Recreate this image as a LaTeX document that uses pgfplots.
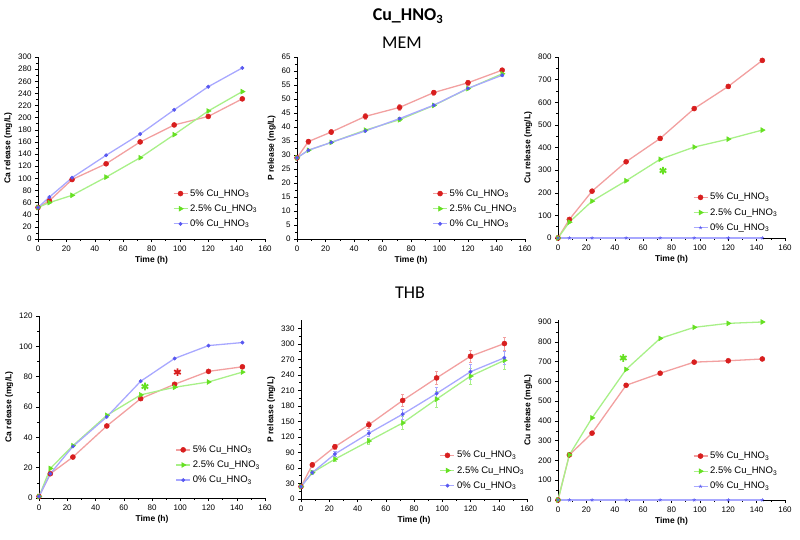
\documentclass[border=0pt]{standalone}
\usepackage{fontspec}
\setmainfont{Liberation Sans}
\newfontfamily\titlefont{Carlito}
\usepackage{pgfplots}
\pgfplotsset{compat=1.18}
\definecolor{lred}{HTML}{F2A0A0}
\definecolor{dred}{HTML}{D81E1E}
\definecolor{lgreen}{HTML}{A8F088}
\definecolor{dgreen}{HTML}{66E022}
\definecolor{lblue}{HTML}{A8A8FF}
\definecolor{dblue}{HTML}{5858F0}
\pgfplotsset{
  panel/.style={scale only axis, xmin=0, xmax=160, xtick={0,20,...,160},
    axis x line*=bottom, axis y line*=left, tick align=outside,
    minor tick num=1, major tick length=3pt, minor tick length=1.6pt,
    axis line style={line width=0.6pt}, every tick/.style={line width=0.5pt, black},
    tick label style={font=\fontsize{8}{9}\selectfont},
    label style={font=\bfseries\fontsize{8.5}{9}\selectfont},
    xlabel={Time (h)},
    xlabel style={yshift=2pt}, ylabel style={yshift=-1pt},
    /pgf/number format/assume math mode=true, /pgf/number format/1000 sep={},
    legend cell align=left,
    legend style={draw=none, fill=none, font=\fontsize{9.5}{10}\selectfont, anchor=north west, row sep=3pt},
    legend image code/.code={\draw[mark repeat=2,mark phase=2,##1] plot coordinates {(0pt,0pt) (7pt,0pt) (14pt,0pt)};},
    every axis plot/.append style={line width=1.3pt},
  },
  s5/.style={color=lred, mark=*, mark size=2.5pt, mark options={fill=dred, draw=dred, solid, line width=0.5pt}},
  s25/.style={color=lgreen, mark=triangle*, mark size=2.8pt, mark options={fill=dgreen, draw=dgreen, rotate=-90, solid, line width=0.5pt}},
  s0/.style={color=lblue, mark=*, mark size=1.7pt, mark options={fill=dblue, draw=dblue, solid, line width=0.5pt}},
  star/.style={only marks, mark=asterisk, mark size=3.8pt, mark options={line width=1.8pt}},
  ebar/.style={error bars/.cd, y dir=both, y explicit, error bar style={line width=0.6pt}, error mark options={rotate=90, mark size=1.6pt, line width=0.6pt}},
}
\begin{document}
\begin{tikzpicture}[x=1pt,y=1pt]
\useasboundingbox (0,0) rectangle (800,539);
\node[font=\titlefont\bfseries\fontsize{18}{20}\selectfont] at (408,523) {Cu\_HNO\textsubscript{3}};
\node[font=\titlefont\fontsize{18}{20}\selectfont] at (402,496) {MEM};
\node[font=\titlefont\fontsize{18}{20}\selectfont] at (410,246) {THB};

% Panel 1: Ca MEM
\begin{axis}[panel, at={(38pt,300pt)}, anchor=south west, width=227pt, height=182pt,
  ymin=0, ymax=300, ytick={0,20,...,300}, ylabel={Ca release (mg/L)},
  legend style={at={(axis description cs:0.58,0.295)}}]
\addplot[s5] coordinates {(0,52)(8,63)(24,98)(48,124)(72,160)(96,188)(120,202)(144,231)};
\addlegendentry{5\% Cu\_HNO\textsubscript{3}}
\addplot[s25] coordinates {(0,52)(8,60)(24,72)(48,102)(72,134)(96,172)(120,211)(144,243)};
\addlegendentry{2.5\% Cu\_HNO\textsubscript{3}}
\addplot[s0] coordinates {(0,52)(8,69)(24,101)(48,138)(72,173)(96,213)(120,251)(144,282)};
\addlegendentry{0\% Cu\_HNO\textsubscript{3}}
\end{axis}

% Panel 2: P MEM
\begin{axis}[panel, at={(297pt,300pt)}, anchor=south west, width=228pt, height=182pt,
  ymin=0, ymax=65, ytick={0,5,...,65}, ylabel={P release (mg/L)},
  legend style={at={(axis description cs:0.58,0.295)}}]
\addplot[s5, ebar] coordinates {(0,29)+-(0,0.6)(8,34.8)+-(0,0.9)(24,38.2)+-(0,0.9)(48,43.8)+-(0,1)(72,47)+-(0,1)(96,52.3)+-(0,0.9)(120,55.8)+-(0,0.8)(144,60.3)+-(0,0.8)};
\addlegendentry{5\% Cu\_HNO\textsubscript{3}}
\addplot[s25, ebar] coordinates {(0,29)+-(0,0.3)(8,31.7)+-(0,0.3)(24,34.5)+-(0,0.4)(48,38.9)+-(0,0.4)(72,42.6)+-(0,0.4)(96,47.7)+-(0,0.4)(120,53.7)+-(0,0.4)(144,59)+-(0,0.5)};
\addlegendentry{2.5\% Cu\_HNO\textsubscript{3}}
\addplot[s0, ebar] coordinates {(0,29)+-(0,0.3)(8,31.7)+-(0,0.3)(24,34.5)+-(0,0.3)(48,38.6)+-(0,0.3)(72,43)+-(0,0.3)(96,47.8)+-(0,0.3)(120,53.8)+-(0,0.3)(144,58.5)+-(0,0.3)};
\addlegendentry{0\% Cu\_HNO\textsubscript{3}}
\end{axis}

% Panel 3: Cu MEM
\begin{axis}[panel, at={(558pt,301pt)}, anchor=south west, width=227pt, height=181pt,
  ymin=0, ymax=800, ytick={0,100,...,800}, ylabel={Cu release (mg/L)},
  legend style={at={(axis description cs:0.58,0.27)}}]
\addplot[s5] coordinates {(0,0)(8,82)(24,207)(48,337)(72,440)(96,572)(120,670)(144,785)};
\addlegendentry{5\% Cu\_HNO\textsubscript{3}}
\addplot[s25] coordinates {(0,0)(8,70)(24,163)(48,253)(72,348)(96,402)(120,437)(144,477)};
\addlegendentry{2.5\% Cu\_HNO\textsubscript{3}}
\addplot[s0, mark=star, mark size=1.8pt] coordinates {(0,0)(8,0)(24,0)(48,0)(72,0)(96,0)(120,0)(144,0)};
\addlegendentry{0\% Cu\_HNO\textsubscript{3}}
\addplot[star, dgreen, forget plot] coordinates {(74,298)};
\end{axis}

% Panel 4: Ca THB
\begin{axis}[panel, at={(39pt,41pt)}, anchor=south west, width=226pt, height=182pt,
  ymin=0, ymax=120, ytick={0,20,...,120}, ylabel={Ca release (mg/L)},
  legend style={at={(axis description cs:0.59,0.31)}}]
\addplot[s5] coordinates {(0,1)(8,16)(24,27)(48,47.5)(72,65.5)(96,75)(120,83.5)(144,86.5)};
\addlegendentry{5\% Cu\_HNO\textsubscript{3}}
\addplot[s25] coordinates {(0,1)(8,19.5)(24,34.5)(48,54.5)(72,68)(96,73)(120,76.5)(144,83)};
\addlegendentry{2.5\% Cu\_HNO\textsubscript{3}}
\addplot[s0] coordinates {(0,1)(8,16)(24,34)(48,53.5)(72,77)(96,92)(120,100.5)(144,102.5)};
\addlegendentry{0\% Cu\_HNO\textsubscript{3}}
\addplot[star, dred, forget plot] coordinates {(98,83)};
\addplot[star, dgreen, forget plot] coordinates {(75,73.5)};
\end{axis}

% Panel 5: P THB
\begin{axis}[panel, at={(301pt,40pt)}, anchor=south west, width=226pt, height=179pt,
  ymin=0, ymax=346, ytick={0,30,...,330}, ylabel={P release (mg/L)},
  legend style={at={(axis description cs:0.6,0.29)}}]
\addplot[s5, ebar] coordinates {(0,24)+-(0,3)(8,66)+-(0,4)(24,101)+-(0,5)(48,143.5)+-(0,6)(72,190.5)+-(0,11)(96,234)+-(0,12)(120,276)+-(0,12)(144,300.5)+-(0,13)};
\addlegendentry{5\% Cu\_HNO\textsubscript{3}}
\addplot[s25, ebar] coordinates {(0,24)+-(0,3)(8,51)+-(0,4)(24,77)+-(0,5)(48,112)+-(0,6)(72,147)+-(0,12)(96,193)+-(0,15)(120,237.5)+-(0,16)(144,268)+-(0,17)};
\addlegendentry{2.5\% Cu\_HNO\textsubscript{3}}
\addplot[s0, ebar] coordinates {(0,24)+-(0,3)(8,51)+-(0,4)(24,87)+-(0,5)(48,127)+-(0,6)(72,164)+-(0,10)(96,204)+-(0,12)(120,246)+-(0,14)(144,273)+-(0,13)};
\addlegendentry{0\% Cu\_HNO\textsubscript{3}}
\end{axis}

% Panel 6: Cu THB
\begin{axis}[panel, at={(558pt,39pt)}, anchor=south west, width=227pt, height=180pt,
  ymin=0, ymax=910, ytick={0,100,...,900}, ylabel={Cu release (mg/L)},
  legend style={at={(axis description cs:0.58,0.29)}}]
\addplot[s5] coordinates {(0,0)(8,228)(24,338)(48,580)(72,641)(96,697)(120,704)(144,713)};
\addlegendentry{5\% Cu\_HNO\textsubscript{3}}
\addplot[s25] coordinates {(0,0)(8,228)(24,415)(48,660)(72,817)(96,873)(120,893)(144,900)};
\addlegendentry{2.5\% Cu\_HNO\textsubscript{3}}
\addplot[s0, mark=star, mark size=1.8pt] coordinates {(0,0)(8,0)(24,0)(48,0)(72,0)(96,0)(120,0)(144,0)};
\addlegendentry{0\% Cu\_HNO\textsubscript{3}}
\addplot[star, dgreen, forget plot] coordinates {(46,718)};
\end{axis}
\end{tikzpicture}
\end{document}
